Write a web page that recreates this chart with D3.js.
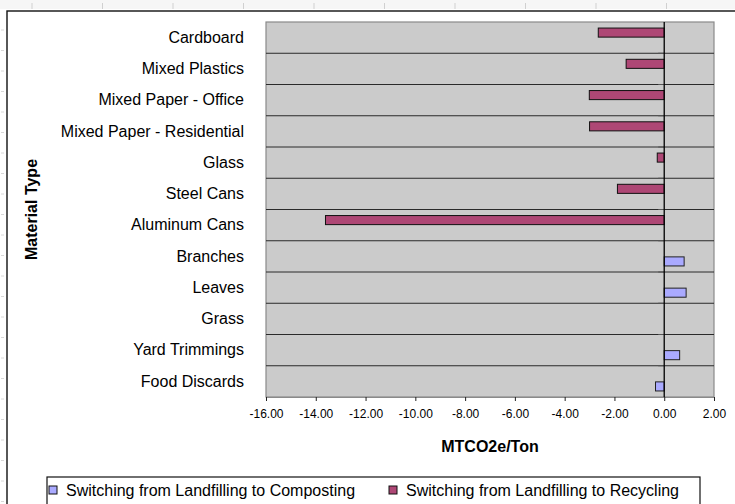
<!DOCTYPE html>
<html>
<head>
<meta charset="utf-8">
<script src="https://cdn.jsdelivr.net/npm/d3@7"></script>
<style>
  body { margin: 0; background: #fff; }
  svg { display: block; font-family: 'Liberation Sans', Arial, sans-serif; }
</style>
</head>
<body>
<div id="chart"></div>
<script>
// categories, top to bottom
const materials = [
  'Cardboard',
  'Mixed Plastics',
  'Mixed Paper - Office',
  'Mixed Paper - Residential',
  'Glass',
  'Steel Cans',
  'Aluminum Cans',
  'Branches',
  'Leaves',
  'Grass',
  'Yard Trimmings',
  'Food Discards'
]

// MTCO2e/Ton, null = no bar
const composting = [null, null, null, null, null, null, null, 0.8, 0.88, null, 0.62, -0.35]
const recycling = [-2.65, -1.53, -3.01, -3.0, -0.28, -1.88, -13.61, null, null, null, null, null]

const xTicks = [-16, -14, -12, -10, -8, -6, -4, -2, 0, 2]

const seriesNames = [
  'Switching from Landfilling to Composting',
  'Switching from Landfilling to Recycling'
]

const width = 735
const height = 504
const plot = { left: 266, right: 714, top: 22, bottom: 397 }

const svg = d3
  .select('#chart')
  .append('svg')
  .attr('width', width)
  .attr('height', height)

svg.append('rect').attr('width', width).attr('height', height).attr('fill', '#fff')

// faint spreadsheet grid showing around the chart
svg.append('rect').attr('width', width).attr('height', 9).attr('fill', '#f6f6f6')
svg
  .selectAll('.sheet-col')
  .data(d3.range(32, width, 70.5))
  .enter()
  .append('line')
  .attr('x1', d => d)
  .attr('x2', d => d)
  .attr('y1', 3)
  .attr('y2', 9)
  .attr('stroke', '#d0d0d0')
svg
  .selectAll('.sheet-row')
  .data(d3.range(30, height, 20.5))
  .enter()
  .append('line')
  .attr('x1', 1)
  .attr('x2', 4)
  .attr('y1', d => d)
  .attr('y2', d => d)
  .attr('stroke', '#d8d8d8')

// chart area border (runs off the right and bottom)
svg
  .append('rect')
  .attr('x', 7)
  .attr('y', 11)
  .attr('width', 760)
  .attr('height', 520)
  .attr('fill', '#fff')
  .attr('stroke', '#111')
  .attr('stroke-width', 1.4)

const xScale = d3
  .scaleLinear()
  .domain([-16, 2])
  .range([plot.left, plot.right])

const yScale = d3
  .scaleBand()
  .domain(materials)
  .range([plot.top, plot.bottom])

const subScale = d3
  .scaleBand()
  .domain(['recycling', 'composting'])
  .range([0, yScale.bandwidth()])
  .paddingInner(0.1)
  .paddingOuter(0.6)

// plot area
svg
  .append('rect')
  .attr('x', plot.left)
  .attr('y', plot.top)
  .attr('width', plot.right - plot.left)
  .attr('height', plot.bottom - plot.top)
  .attr('fill', '#cbcbcb')
  .attr('stroke', '#8a8a8a')
  .attr('stroke-width', 1.2)

// gridlines between categories
svg
  .selectAll('.grid')
  .data(materials.slice(1))
  .enter()
  .append('line')
  .attr('class', 'grid')
  .attr('x1', plot.left)
  .attr('x2', plot.right)
  .attr('y1', d => yScale(d))
  .attr('y2', d => yScale(d))
  .attr('stroke', '#2a2a2a')
  .attr('stroke-width', 1)

// x axis
const xAxis = d3
  .axisBottom(xScale)
  .tickValues(xTicks)
  .tickFormat(d => d.toFixed(2))
  .tickSize(4)
  .tickSizeOuter(0)
  .tickPadding(8)

const xg = svg
  .append('g')
  .attr('transform', `translate(0,${plot.bottom})`)
  .call(xAxis)
xg.select('.domain').attr('stroke', '#8a8a8a').attr('stroke-width', 1.2)
xg.selectAll('.tick line').attr('stroke', '#222')
xg.selectAll('text')
  .attr('font-size', 12)
  .attr('fill', '#000')
  .attr('font-family', "'Liberation Sans', Arial, sans-serif")

// bars
const rows = materials.map((m, i) => ({ m, comp: composting[i], rec: recycling[i] }))

svg
  .selectAll('.bar-rec')
  .data(rows.filter(d => d.rec !== null))
  .enter()
  .append('rect')
  .attr('class', 'bar-rec')
  .attr('x', d => xScale(Math.min(0, d.rec)))
  .attr('y', d => yScale(d.m) + subScale('recycling'))
  .attr('width', d => Math.abs(xScale(d.rec) - xScale(0)))
  .attr('height', subScale.bandwidth())
  .attr('fill', '#ae4775')
  .attr('stroke', '#111')
  .attr('stroke-width', 1)

svg
  .selectAll('.bar-comp')
  .data(rows.filter(d => d.comp !== null))
  .enter()
  .append('rect')
  .attr('class', 'bar-comp')
  .attr('x', d => xScale(Math.min(0, d.comp)))
  .attr('y', d => yScale(d.m) + subScale('composting'))
  .attr('width', d => Math.abs(xScale(d.comp) - xScale(0)))
  .attr('height', subScale.bandwidth())
  .attr('fill', '#aaaaff')
  .attr('stroke', '#222')
  .attr('stroke-width', 1)

// category axis sits on zero
svg
  .selectAll('.cat-tick')
  .data(materials.slice(1))
  .enter()
  .append('line')
  .attr('x1', xScale(0) - 6)
  .attr('x2', xScale(0))
  .attr('y1', d => yScale(d))
  .attr('y2', d => yScale(d))
  .attr('stroke', '#555')

svg
  .append('line')
  .attr('x1', xScale(0))
  .attr('x2', xScale(0))
  .attr('y1', plot.top)
  .attr('y2', plot.bottom)
  .attr('stroke', '#000')
  .attr('stroke-width', 1.3)

// category labels
const yg = svg
  .append('g')
  .attr('transform', 'translate(244,0)')
  .call(d3.axisLeft(yScale).tickSize(0).tickPadding(0))
yg.select('.domain').remove()
yg.selectAll('text')
  .attr('font-size', 16)
  .attr('fill', '#000')
  .attr('font-family', "'Liberation Sans', Arial, sans-serif")

// axis titles
svg
  .append('text')
  .attr('x', (plot.left + plot.right) / 2)
  .attr('y', 452)
  .attr('text-anchor', 'middle')
  .attr('font-size', 16)
  .attr('font-weight', 'bold')
  .text('MTCO2e/Ton')

svg
  .append('text')
  .attr('transform', `translate(37,${(plot.top + plot.bottom) / 2}) rotate(-90)`)
  .attr('text-anchor', 'middle')
  .attr('font-size', 16)
  .attr('font-weight', 'bold')
  .text('Material Type')

// legend
const legend = svg.append('g')
legend
  .append('rect')
  .attr('x', 47)
  .attr('y', 477)
  .attr('width', 653)
  .attr('height', 40)
  .attr('fill', '#fff')
  .attr('stroke', '#111')
  .attr('stroke-width', 1.2)

const legendX = [49, 389]
const legendColors = ['#aaaaff', '#ae4775']
seriesNames.forEach((name, i) => {
  legend
    .append('rect')
    .attr('x', legendX[i])
    .attr('y', 486)
    .attr('width', 8)
    .attr('height', 8)
    .attr('fill', legendColors[i])
    .attr('stroke', '#111')
  legend
    .append('text')
    .attr('x', legendX[i] + 17)
    .attr('y', 496)
    .attr('font-size', 16)
    .text(name)
})
</script>
</body>
</html>
